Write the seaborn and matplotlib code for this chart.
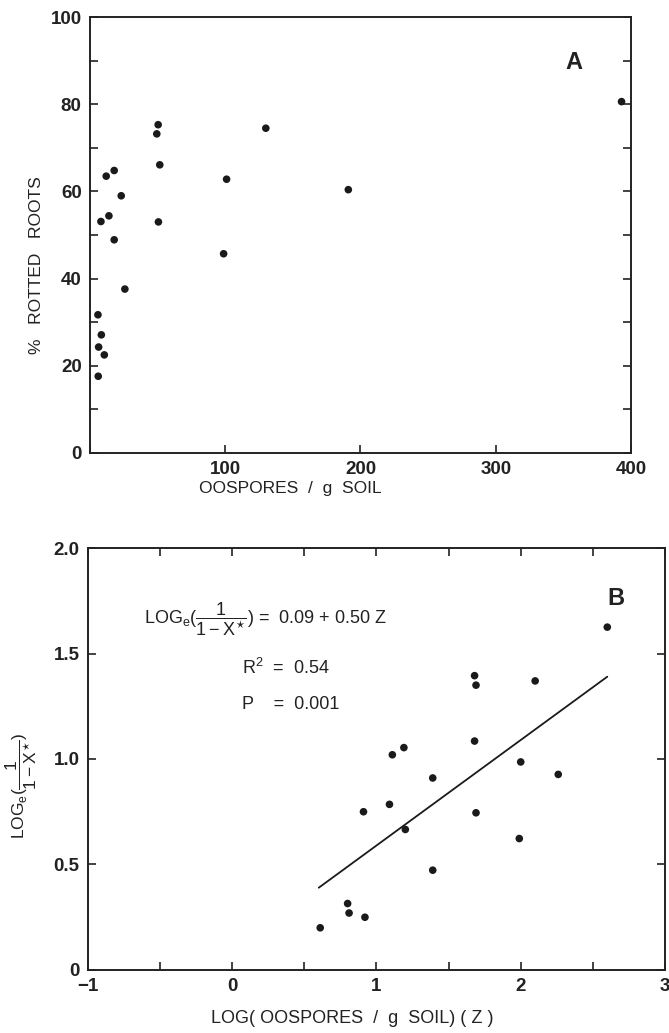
import numpy as np
import pandas as pd
import matplotlib
matplotlib.use('Agg')
import matplotlib.pyplot as plt
import seaborn as sns

# panel A: raw oospore counts vs % rotted roots
oospores = [5.9, 8.4, 6.4, 10.6, 6.1, 8.1, 14.0, 12.0, 17.9, 23.1, 17.9, 25.8,
            50.4, 49.4, 51.6, 50.6, 101.0, 98.8, 130.0, 191.0, 393.0]
rotted = [31.7, 27.1, 24.3, 22.5, 17.6, 53.1, 54.4, 63.5, 64.8, 59.0, 48.9, 37.6,
          75.3, 73.2, 66.1, 53.0, 62.8, 45.7, 74.5, 60.4, 80.6]

# panel B: log transformed
log_oospores = [0.61, 0.80, 0.81, 0.92, 0.91, 1.09, 1.11, 1.19, 1.20, 1.39, 1.39,
                1.68, 1.69, 1.68, 1.69, 2.10, 2.00, 1.99, 2.26, 2.60]
log_rot = [0.20, 0.315, 0.27, 0.25, 0.75, 0.785, 1.02, 1.054, 0.666, 0.91, 0.473,
           1.395, 1.35, 1.085, 0.745, 1.37, 0.986, 0.623, 0.927, 1.625]
intercept = 0.09
slope = 0.50
fit_range = [0.6, 2.6]

sns.set_style('white')
plt.rcParams['font.family'] = ['Liberation Sans', 'DejaVu Sans']
plt.rcParams['mathtext.fontset'] = 'custom'
plt.rcParams['mathtext.rm'] = 'Liberation Sans'
plt.rcParams['mathtext.it'] = 'Liberation Sans'
plt.rcParams['mathtext.bf'] = 'Liberation Sans:bold'

INK = '#222222'
ylab_b = r'LOG$_{\mathrm{e}}$($\dfrac{1}{1-X^{\star}}$)'

df_a = pd.DataFrame({'oospores': oospores, 'rotted': rotted})
df_b = pd.DataFrame({'z': log_oospores, 'y': log_rot})

fig = plt.figure(figsize=(6.69, 10.33), dpi=100)
ax_a = fig.add_axes([0.1345, 0.5615, 0.8087, 0.422])
ax_b = fig.add_axes([0.1315, 0.061, 0.8625, 0.4085])


def style_axes(ax):
    for s in ax.spines.values():
        s.set_visible(True)
        s.set_color(INK)
        s.set_linewidth(1.4)
    ax.tick_params(which='both', direction='in', top=True, right=True,
                   bottom=True, left=True, color=INK, width=1.2)
    ax.tick_params(which='major', length=6, labelsize=13.5, pad=6)
    ax.tick_params(which='minor', length=6)
    for lab in ax.get_xticklabels() + ax.get_yticklabels():
        lab.set_fontweight('bold')
        lab.set_color(INK)


# panel A
sns.scatterplot(data=df_a, x='oospores', y='rotted', ax=ax_a, color='#1a1a1a',
                s=30, edgecolor='none')
ax_a.set_xlim(0, 400)
ax_a.set_ylim(0, 100)
ax_a.set_xticks([0, 100, 200, 300, 400])
ax_a.set_xticklabels(['', '100', '200', '300', '400'])
ax_a.set_yticks([0, 20, 40, 60, 80, 100])
ax_a.set_yticks(np.arange(10, 100, 20), minor=True)
style_axes(ax_a)
ax_a.tick_params(axis='x', which='major', top=False)
ax_a.xaxis.set_ticks([100, 200, 300], minor=True)
ax_a.tick_params(axis='x', which='minor', top=True, bottom=False, length=6)
ax_a.set_xlabel('OOSPORES  /  g  SOIL', fontsize=12.5, color=INK)
ax_a.xaxis.set_label_coords(0.37, -0.065)
ax_a.set_ylabel('%   ROTTED   ROOTS', fontsize=12.5, color=INK)
ax_a.yaxis.set_label_coords(-0.085, 0.43)
ax_a.text(358, 89.5, 'A', fontsize=17, fontweight='bold', color=INK,
          ha='center', va='center')

# panel B
sns.scatterplot(data=df_b, x='z', y='y', ax=ax_b, color='#1a1a1a', s=30,
                edgecolor='none')
fx = np.array(fit_range)
sns.lineplot(x=fx, y=intercept + slope * fx, ax=ax_b, color='#1a1a1a', lw=1.3)
ax_b.set_xlim(-1, 3)
ax_b.set_ylim(0, 2.0)
ax_b.set_xticks([-1, 0, 1, 2, 3])
ax_b.set_xticklabels(['\u22121', '0', '1', '2', '3'])
ax_b.set_xticks(np.arange(-0.5, 3, 1.0), minor=True)
ax_b.set_yticks([0, 0.5, 1.0, 1.5, 2.0])
ax_b.set_yticklabels(['0', '0.5', '1.0', '1.5', '2.0'])
style_axes(ax_b)
ax_b.set_xlabel('LOG( OOSPORES  /  g  SOIL) ( Z )', fontsize=13, color=INK)
ax_b.xaxis.set_label_coords(0.458, -0.095)
ax_b.set_ylabel(ylab_b, fontsize=12.5, color=INK)
ax_b.yaxis.set_label_coords(-0.085, 0.436)
ax_b.text(-0.61, 1.66, ylab_b + ' =  0.09 + 0.50 Z',
          fontsize=13, color=INK, ha='left', va='center')
ax_b.text(0.07, 1.43, r'R$^2$  =  0.54', fontsize=13, color=INK,
          ha='left', va='center')
ax_b.text(0.07, 1.26, 'P    =  0.001', fontsize=13, color=INK,
          ha='left', va='center')
ax_b.text(2.66, 1.76, 'B', fontsize=17, fontweight='bold', color=INK,
          ha='center', va='center')

fig.savefig('out.png', dpi=100)
